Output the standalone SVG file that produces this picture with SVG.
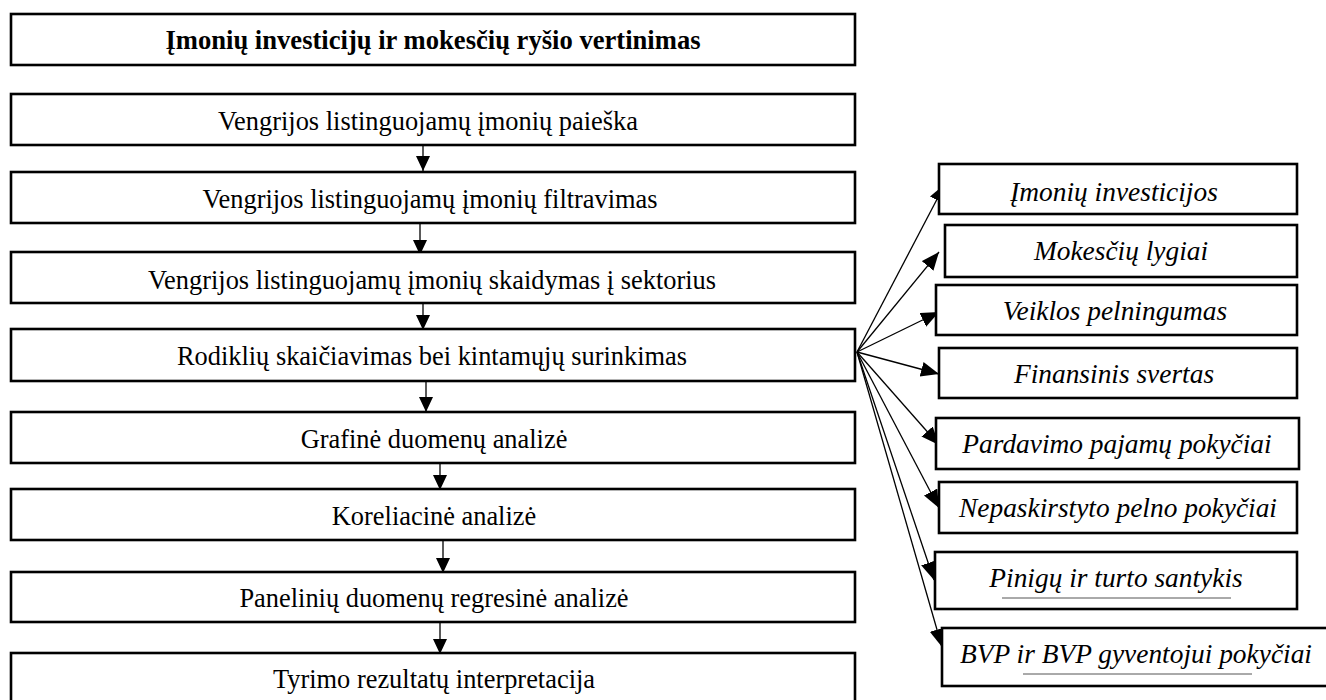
<svg xmlns="http://www.w3.org/2000/svg" width="1326" height="700" viewBox="0 0 1326 700">
<defs>
<style>
.box{fill:#fff;stroke:#000;stroke-width:2.6}
.t{font-family:"Liberation Serif","Times New Roman",serif;font-size:26.4px;fill:#000;text-anchor:middle}
.tb{font-weight:bold;font-size:26.6px}
.ti{font-family:"Liberation Serif","Times New Roman",serif;font-size:27.4px;font-style:italic;fill:#000;text-anchor:middle}
.c{stroke:#000;stroke-width:1.3;fill:none}
.ul{stroke:#555;stroke-width:1}
</style>
<marker id="ad" markerUnits="userSpaceOnUse" markerWidth="16" markerHeight="16" viewBox="0 0 16 16" refX="15" refY="7" orient="auto">
<path d="M0,0 L15,7 L0,14 Z" fill="#000"/>
</marker>
<marker id="af" markerUnits="userSpaceOnUse" markerWidth="20" markerHeight="16" viewBox="0 0 20 16" refX="18" refY="7.5" orient="auto">
<path d="M0,0 L18,7.5 L0,15 Z" fill="#000"/>
</marker>
</defs>
<rect width="1326" height="700" fill="#fff"/>
<g id="connectors">
<line class="c" x1="423" y1="145" x2="423" y2="171" marker-end="url(#ad)"/>
<line class="c" x1="420" y1="223" x2="420" y2="255" marker-end="url(#ad)"/>
<line class="c" x1="423" y1="303" x2="423" y2="330" marker-end="url(#ad)"/>
<line class="c" x1="426" y1="381" x2="426" y2="412" marker-end="url(#ad)"/>
<line class="c" x1="440" y1="463" x2="440" y2="490" marker-end="url(#ad)"/>
<line class="c" x1="443" y1="540" x2="443" y2="573" marker-end="url(#ad)"/>
<line class="c" x1="440" y1="622" x2="440" y2="654" marker-end="url(#ad)"/>
<line class="c" x1="857" y1="352" x2="945" y2="184" marker-end="url(#af)"/>
<line class="c" x1="857" y1="352" x2="939" y2="252" marker-end="url(#af)"/>
<line class="c" x1="857" y1="352" x2="939" y2="312" marker-end="url(#af)"/>
<line class="c" x1="857" y1="352" x2="939" y2="374" marker-end="url(#af)"/>
<line class="c" x1="857" y1="352" x2="939" y2="445" marker-end="url(#af)"/>
<line class="c" x1="857" y1="352" x2="939" y2="508" marker-end="url(#af)"/>
<line class="c" x1="857" y1="352" x2="934" y2="580" marker-end="url(#af)"/>
<line class="c" x1="857" y1="352" x2="942" y2="647" marker-end="url(#af)"/>
</g>
<g id="n-title"><rect class="box" x="11" y="14" width="844" height="51"/><text class="t tb" x="433" y="49">Įmonių investicijų ir mokesčių ryšio vertinimas</text></g>
<g id="n1"><rect class="box" x="11" y="94" width="844" height="51"/><text class="t" x="428" y="130">Vengrijos listinguojamų įmonių paieška</text></g>
<g id="n2"><rect class="box" x="11" y="172" width="844" height="51"/><text class="t" x="430" y="208">Vengrijos listinguojamų įmonių filtravimas</text></g>
<g id="n3"><rect class="box" x="11" y="252" width="844" height="51"/><text class="t" x="432" y="289">Vengrijos listinguojamų įmonių skaidymas į sektorius</text></g>
<g id="n4"><rect class="box" x="11" y="329" width="844" height="52"/><text class="t" x="432" y="365">Rodiklių skaičiavimas bei kintamųjų surinkimas</text></g>
<g id="n5"><rect class="box" x="11" y="412" width="844" height="51"/><text class="t" x="434" y="448">Grafinė duomenų analizė</text></g>
<g id="n6"><rect class="box" x="11" y="489" width="844" height="51"/><text class="t" x="434" y="525">Koreliacinė analizė</text></g>
<g id="n7"><rect class="box" x="11" y="572" width="844" height="50"/><text class="t" x="434" y="607">Panelinių duomenų regresinė analizė</text></g>
<g id="n8"><rect class="box" x="11" y="653" width="844" height="60"/><text class="t" x="434" y="688">Tyrimo rezultatų interpretacija</text></g>
<g id="r1"><rect class="box" x="939" y="164" width="358" height="50"/><text class="ti" x="1114" y="201">Įmonių investicijos</text></g>
<g id="r2"><rect class="box" x="945" y="225" width="352" height="52"/><text class="ti" x="1121" y="260">Mokesčių lygiai</text></g>
<g id="r3"><rect class="box" x="936" y="285" width="361" height="50"/><text class="ti" x="1115" y="320">Veiklos pelningumas</text></g>
<g id="r4"><rect class="box" x="939" y="348" width="358" height="50"/><text class="ti" x="1114" y="383">Finansinis svertas</text></g>
<g id="r5"><rect class="box" x="936" y="418" width="363" height="51"/><text class="ti" x="1117" y="453">Pardavimo pajamų pokyčiai</text></g>
<g id="r6"><rect class="box" x="939" y="482" width="358" height="51"/><text class="ti" x="1118" y="517">Nepaskirstyto pelno pokyčiai</text></g>
<g id="r7"><rect class="box" x="935" y="552" width="362" height="57"/><text class="ti" x="1116" y="587">Pinigų ir turto santykis</text><line class="ul" x1="1002" y1="598" x2="1231" y2="598"/></g>
<g id="r8"><rect class="box" x="942" y="628" width="400" height="58"/><text class="ti" x="1136" y="663">BVP ir BVP gyventojui pokyčiai</text><line class="ul" x1="1023" y1="674" x2="1252" y2="674"/></g>
</svg>
